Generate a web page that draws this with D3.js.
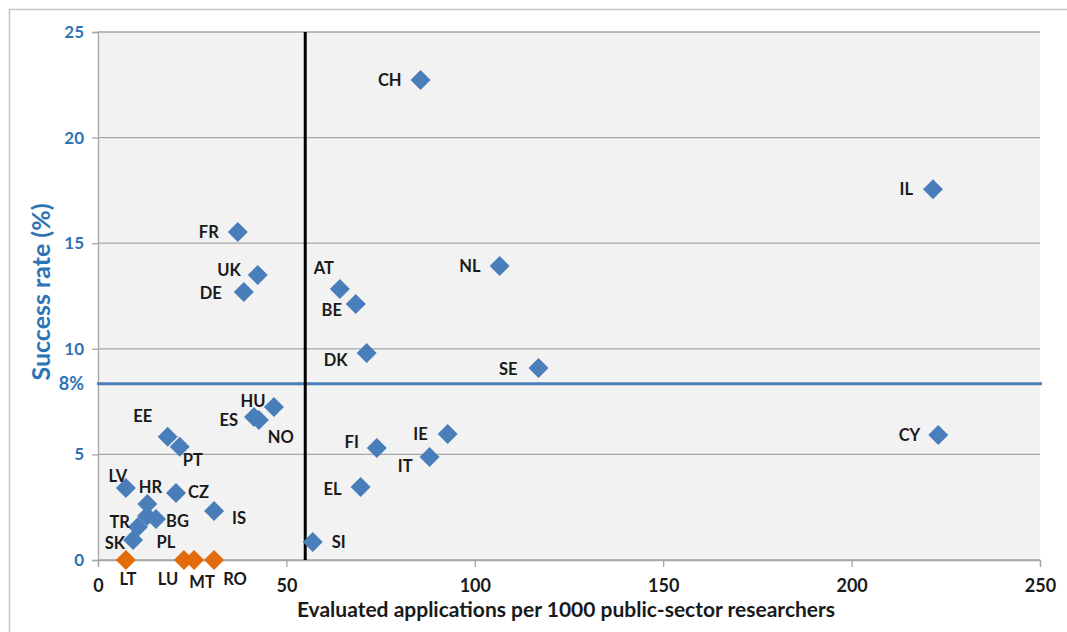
<!DOCTYPE html>
<html><head><meta charset="utf-8">
<script src="https://cdn.jsdelivr.net/npm/d3@7"></script>
<style>body{margin:0;background:#fff;} svg{display:block;}</style>
</head><body>
<svg id="c" width="1067" height="632"></svg>
<script>
// Data
const countries = ["CH","IL","FR","UK","DE","AT","BE","NL","DK","SE","HU","ES","NO","EE","PT","LV","HR","CZ","BG","TR","PL","SK","IS","SI","FI","IE","IT","EL","CY"];
const applications = [85.6,221.6,37.1,42.4,38.7,64.2,68.4,106.6,71.3,116.9,46.7,41.4,42.7,18.5,21.7,7.4,13.1,20.7,15.4,10.6,13.0,9.3,30.8,57.0,74.0,92.8,88.0,69.7,223.0];
const successRate = [22.73,17.55,15.53,13.49,12.69,12.83,12.12,13.92,9.80,9.09,7.24,6.77,6.63,5.83,5.36,3.41,2.65,3.17,1.94,1.56,2.08,0.95,2.32,0.85,5.30,5.97,4.88,3.46,5.92];
const zeroCountries = ["LT","LU","MT","RO"];
const zeroApplications = [7.4,22.8,25.5,30.8];
const zeroSuccess = [0,0,0,0];
const xTicks = [0,50,100,150,200,250];
const yTicks = [0,5,10,15,20,25];
const thresholdX = 55;
const thresholdY = 8.35;
const thresholdYLabel = "8%";
const xTitle = "Evaluated applications per 1000 public-sector researchers";
const yTitle = "Success rate (%)";

// label placement (styling, not data): [anchor, dx, dy]
const labelPos = {
  CH:["end",-19,0], IL:["end",-20,0], FR:["end",-19,0], UK:["end",-17,-5], DE:["end",-22,1],
  AT:["middle",-16,-21], BE:["middle",-24,6], NL:["end",-19,0], DK:["end",-19,7], SE:["end",-21,1],
  HU:["middle",-21,-6], ES:["end",-16,3], NO:["middle",22,17], EE:["middle",-25,-21], PT:["middle",13,13],
  LV:["middle",-8,-12], HR:["middle",3,-17], CZ:["start",12,-1], BG:["start",10,2], TR:["end",-8,-5],
  PL:["middle",19,26], SK:["end",-8,3], IS:["start",18,7], SI:["start",19,0], FI:["end",-18,-6],
  IE:["end",-20,0], IT:["end",-17,9], EL:["end",-19,2], CY:["end",-18,0],
  LT:["middle",2,19], LU:["middle",-16,19], MT:["middle",8,22], RO:["middle",21,19]
};

const svg = d3.select("#c");
const pLeft = 98, pRight = 1040, pTop = 32, pBottom = 560;
const x = d3.scaleLinear().domain([0,250]).range([pLeft,pRight]);
const y = d3.scaleLinear().domain([0,25]).range([pBottom,pTop]);
const FONT = "Lato, 'Open Sans', sans-serif";

// outer frame
svg.append("path").attr("d","M9.5,640 V9.5 H1070").attr("fill","none").attr("stroke","#c6c6c6").attr("stroke-width",1.5);

// plot bg
svg.append("rect").attr("x",pLeft).attr("y",pTop).attr("width",pRight-pLeft).attr("height",pBottom-pTop).attr("fill","#f2f2f2");

// gridlines
svg.append("g").selectAll("line").data(yTicks).join("line")
  .attr("x1",pLeft).attr("x2",pRight).attr("y1",d=>y(d)).attr("y2",d=>y(d))
  .attr("stroke","#a6a6a6").attr("stroke-width",1.3);

// y axis
const yAxis = svg.append("g").attr("transform",`translate(${pLeft},0)`)
  .call(d3.axisLeft(y).tickValues(yTicks).tickSize(6).tickPadding(8));
yAxis.select(".domain").attr("stroke","#a6a6a6").attr("stroke-width",1.3);
yAxis.selectAll(".tick line").attr("stroke","#a6a6a6").attr("stroke-width",1.3);
yAxis.selectAll("text").attr("fill","#2e74b5").style("font-family",FONT).style("font-size","17px").style("font-weight","700");

// x axis
const xAxis = svg.append("g").attr("transform",`translate(0,${pBottom})`)
  .call(d3.axisBottom(x).tickValues(xTicks).tickSize(7).tickPadding(12));
xAxis.select(".domain").attr("stroke","#a6a6a6").attr("stroke-width",1.3);
xAxis.selectAll(".tick line").attr("stroke","#a6a6a6").attr("stroke-width",1.3);
xAxis.selectAll("text").attr("fill","#1a1a1a").style("font-family",FONT).style("font-size","18px").style("font-weight","700");

// threshold lines
svg.append("line").attr("x1",pLeft-1).attr("x2",pRight+2).attr("y1",y(thresholdY)).attr("y2",y(thresholdY))
  .attr("stroke","#4a7ebb").attr("stroke-width",3);
svg.append("line").attr("x1",x(thresholdX)).attr("x2",x(thresholdX)).attr("y1",pTop).attr("y2",pBottom)
  .attr("stroke","#000").attr("stroke-width",3);
svg.append("text").attr("x",pLeft-14).attr("y",y(thresholdY)).attr("dy","0.35em").attr("text-anchor","end")
  .attr("fill","#2e74b5").style("font-family",FONT).style("font-size","18px").style("font-weight","700")
  .text(thresholdYLabel);

// points
const pts = countries.map((c,i)=>({c, x:applications[i], y:successRate[i], col:"#4a7ebb"}))
  .concat(zeroCountries.map((c,i)=>({c, x:zeroApplications[i], y:zeroSuccess[i], col:"#e26b0a"})));
const sym = d3.symbol().type(d3.symbolSquare).size(200);
svg.append("g").selectAll("path").data(pts).join("path")
  .attr("d",sym)
  .attr("transform",d=>`translate(${x(d.x)},${y(d.y)}) rotate(45)`)
  .attr("fill",d=>d.col);

svg.append("g").selectAll("text").data(pts).join("text")
  .attr("x",d=>x(d.x)+labelPos[d.c][1]).attr("y",d=>y(d.y)+labelPos[d.c][2]).attr("dy","0.35em")
  .attr("text-anchor",d=>labelPos[d.c][0])
  .attr("fill","#1a1a1a").style("font-family",FONT).style("font-size","16.5px").style("font-weight","700")
  .text(d=>d.c);

// titles
svg.append("text").attr("x",(pLeft+pRight)/2 - 3).attr("y",617).attr("text-anchor","middle")
  .attr("fill","#1a1a1a").style("font-family",FONT).style("font-size","21px").style("font-weight","700")
  .text(xTitle);
svg.append("text").attr("transform",`translate(41,292) rotate(-90)`).attr("text-anchor","middle").attr("dy","0.35em")
  .attr("fill","#2e74b5").style("font-family",FONT).style("font-size","25px").style("font-weight","700")
  .text(yTitle);
</script>
</body></html>
